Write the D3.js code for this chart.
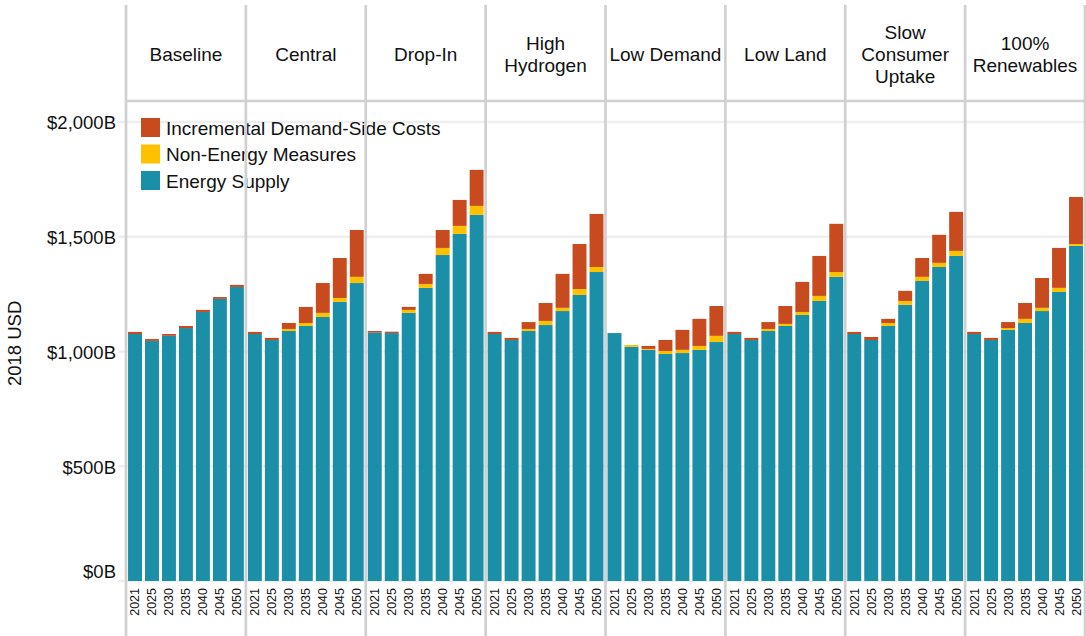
<!DOCTYPE html>
<html>
<head>
<meta charset="utf-8">
<script src="https://cdn.jsdelivr.net/npm/d3@7"></script>
<style>
  body { margin: 0; background: #fff; }
  svg text { font-family: "Liberation Sans", Arial, sans-serif; fill: #111; }
</style>
</head>
<body>
<div id="chart"></div>
<script>
const scenarios = ["Baseline", "Central", "Drop-In", "High\nHydrogen", "Low Demand", "Low Land", "Slow\nConsumer\nUptake", "100%\nRenewables"];
const years = ["2021", "2025", "2030", "2035", "2040", "2045", "2050"];

// values in $B, one row per scenario
const energySupply = [
  [1076, 1046, 1068, 1102, 1172, 1229, 1281],
  [1076, 1050, 1089, 1111, 1150, 1216, 1298],
  [1082, 1080, 1168, 1277, 1420, 1512, 1595],
  [1076, 1050, 1089, 1115, 1176, 1246, 1346],
  [1080, 1020, 1007, 989, 993, 1007, 1041],
  [1076, 1050, 1089, 1111, 1159, 1220, 1325],
  [1076, 1050, 1111, 1203, 1307, 1368, 1416],
  [1076, 1050, 1094, 1124, 1176, 1259, 1460]
];
const nonEnergy = [
  [0, 0, 0, 0, 0, 0, 0],
  [0, 0, 9, 13, 18, 17, 27],
  [0, 0, 13, 17, 31, 35, 39],
  [0, 0, 9, 18, 14, 26, 22],
  [0, 8, 4, 13, 14, 17, 27],
  [0, 0, 9, 9, 13, 22, 21],
  [0, 0, 13, 17, 18, 18, 22],
  [0, 0, 8, 18, 14, 18, 8]
];
const demandSide = [
  [9, 8, 8, 9, 9, 8, 9],
  [9, 9, 26, 70, 130, 174, 204],
  [7, 6, 13, 44, 78, 113, 157],
  [9, 9, 30, 78, 148, 196, 231],
  [0, 0, 13, 48, 87, 118, 130],
  [9, 9, 30, 78, 131, 174, 210],
  [9, 13, 18, 44, 82, 122, 170],
  [9, 9, 26, 69, 130, 174, 205]
];
const seriesNames = ["Energy Supply", "Non-Energy Measures", "Incremental Demand-Side Costs"];
const seriesColors = ["#1a8fa7", "#ffc000", "#c84b20"];
const yTicks = [0, 500, 1000, 1500, 2000];

const width = 1086, height = 636;
const left = 126, right = 1085, headerTop = 5, headerBottom = 101, plotBottom = 581;

const svg = d3.select("#chart").append("svg")
  .attr("width", width)
  .attr("height", height);

const rows = [];
scenarios.forEach((s, si) => {
  years.forEach((yr, yi) => {
    rows.push({
      scenario: s, year: yr,
      "Energy Supply": energySupply[si][yi],
      "Non-Energy Measures": nonEnergy[si][yi],
      "Incremental Demand-Side Costs": demandSide[si][yi]
    });
  });
});

const x0 = d3.scaleBand().domain(scenarios).range([left, right]).padding(0);
const x1 = d3.scaleBand().domain(years).range([0, x0.bandwidth()]).paddingInner(0.18).paddingOuter(0.12);
const y = d3.scaleLinear().domain([0, 2091]).range([plotBottom, headerBottom]);

// gridlines
svg.append("g")
  .selectAll("line")
  .data(yTicks)
  .join("line")
  .attr("x1", left - 8)
  .attr("x2", right)
  .attr("y1", d => y(d))
  .attr("y2", d => y(d))
  .attr("stroke", "#efefef")
  .attr("stroke-width", 2.5);

// y tick labels
svg.append("g")
  .selectAll("text")
  .data(yTicks)
  .join("text")
  .attr("x", 116)
  .attr("y", d => d === 0 ? y(d) - 9 : y(d) + 1)
  .attr("dy", "0.35em")
  .attr("text-anchor", "end")
  .style("font-size", "18.5px")
  .text(d => "$" + d3.format(",")(d) + "B");

svg.append("text")
  .attr("transform", `translate(21, ${y(1000) - 8}) rotate(-90)`)
  .attr("text-anchor", "middle")
  .style("font-size", "18.5px")
  .text("2018 USD");

// bars
const stack = d3.stack().keys(seriesNames);
const layers = stack(rows);

svg.append("g")
  .selectAll("g")
  .data(layers)
  .join("g")
  .attr("fill", (d, i) => seriesColors[i])
  .selectAll("rect")
  .data(d => d)
  .join("rect")
  .attr("x", d => x0(d.data.scenario) + x1(d.data.year))
  .attr("width", x1.bandwidth())
  .attr("y", d => y(d[1]))
  .attr("height", d => Math.max(0, y(d[0]) - y(d[1])));

// year labels
svg.append("g")
  .selectAll("text")
  .data(rows)
  .join("text")
  .attr("transform", d => `translate(${x0(d.scenario) + x1(d.year) + x1.bandwidth() / 2 + 4.5}, 588) rotate(-90)`)
  .attr("text-anchor", "end")
  .style("font-size", "12.5px")
  .text(d => d.year);

// legend
const legendItems = [
  { name: seriesNames[2], color: seriesColors[2] },
  { name: seriesNames[1], color: seriesColors[1] },
  { name: seriesNames[0], color: seriesColors[0] }
];
const legend = svg.append("g").attr("transform", "translate(141, 118)");
legend.selectAll("rect")
  .data(legendItems)
  .join("rect")
  .attr("x", 0)
  .attr("y", (d, i) => i * 26.5)
  .attr("width", 19)
  .attr("height", 19)
  .attr("fill", d => d.color);
legend.selectAll("text")
  .data(legendItems)
  .join("text")
  .attr("x", 25)
  .attr("y", (d, i) => i * 26.5 + 10)
  .attr("dy", "0.35em")
  .style("font-size", "19px")
  .text(d => d.name);

// panel dividers and header
const edges = scenarios.map(s => x0(s)).concat([right]);
svg.append("g")
  .selectAll("line")
  .data(edges)
  .join("line")
  .attr("x1", d => d)
  .attr("x2", d => d)
  .attr("y1", headerTop)
  .attr("y2", height)
  .attr("stroke", "#d0d0d0")
  .attr("stroke-width", 2.7);

svg.append("line")
  .attr("x1", left)
  .attr("x2", right)
  .attr("y1", headerBottom)
  .attr("y2", headerBottom)
  .attr("stroke", "#d0d0d0")
  .attr("stroke-width", 2.7);

const headers = svg.append("g")
  .selectAll("text")
  .data(scenarios)
  .join("text")
  .attr("text-anchor", "middle")
  .style("font-size", "19px");

headers.each(function (s) {
  const lines = s.split("\n");
  const cx = x0(s) + x0.bandwidth() / 2;
  const lh = 22;
  const start = (headerTop + headerBottom) / 2 + 1 - (lines.length - 1) * lh / 2;
  d3.select(this).selectAll("tspan")
    .data(lines)
    .join("tspan")
    .attr("x", cx)
    .attr("y", (d, i) => start + i * lh)
    .attr("dy", "0.35em")
    .text(d => d);
});
</script>
</body>
</html>
